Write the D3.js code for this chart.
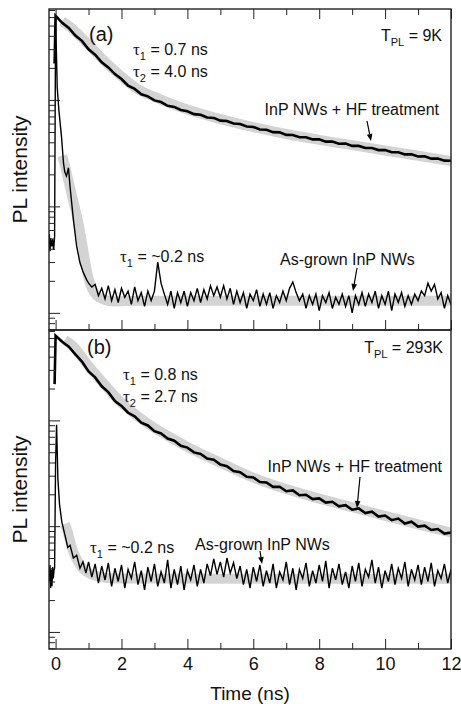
<!DOCTYPE html>
<html><head><meta charset="utf-8">
<script src="https://cdn.jsdelivr.net/npm/d3@7"></script>
<style>
body{margin:0;background:#fff}
svg{display:block}
text{font-family:"Liberation Sans",Arial,Helvetica,sans-serif;fill:#111}
</style>
</head><body>
<svg id="chart" width="461" height="704"></svg>
<script>
// ---------- axis settings ----------
const timeDomain = [-0.2, 12];
const intensityDomain = [0.69, 715];
const xMajorTicks = [0, 2, 4, 6, 8, 10, 12];
const xMinorTicks = [1, 3, 5, 7, 9, 11];
const xTickLabels = ["0", "2", "4", "6", "8", "10", "12"];

// ---------- sampling grids (ns) ----------
const timeGrid02 = [0,0.2,0.4,0.6,0.8,1,1.2,1.4,1.6,1.8,
  2,2.2,2.4,2.6,2.8,3,3.2,3.4,3.6,3.8,
  4,4.2,4.4,4.6,4.8,5,5.2,5.4,5.6,5.8,
  6,6.2,6.4,6.6,6.8,7,7.2,7.4,7.6,7.8,
  8,8.2,8.4,8.6,8.8,9,9.2,9.4,9.6,9.8,
  10,10.2,10.4,10.6,10.8,11,11.2,11.4,11.6,11.8,
  12];
const timeTail = [1,1.1,1.2,1.3,1.4,1.5,1.6,1.7,1.8,1.9,
  2,2.1,2.2,2.3,2.4,2.5,2.6,2.7,2.8,2.9,
  3,3.1,3.2,3.3,3.4,3.5,3.6,3.7,3.8,3.9,
  4,4.1,4.2,4.3,4.4,4.5,4.6,4.7,4.8,4.9,
  5,5.1,5.2,5.3,5.4,5.5,5.6,5.7,5.8,5.9,
  6,6.1,6.2,6.3,6.4,6.5,6.6,6.7,6.8,6.9,
  7,7.1,7.2,7.3,7.4,7.5,7.6,7.7,7.8,7.9,
  8,8.1,8.2,8.3,8.4,8.5,8.6,8.7,8.8,8.9,
  9,9.1,9.2,9.3,9.4,9.5,9.6,9.7,9.8,9.9,
  10,10.1,10.2,10.3,10.4,10.5,10.6,10.7,10.8,10.9,
  11,11.1,11.2,11.3,11.4,11.5,11.6,11.7,11.8,11.9,
  12];

// ---------- (a) 9 K : InP NWs + HF treatment ----------
const hf9KLeadT = [-0.03];
const hf9KLeadV = [220];
const hf9K = [617,530,474,402,359,299,266,226,202,175,
  157,136,127,113,108,99,95.5,88,86,80.5,
  78.3,73.6,72.6,68.5,67.8,63.9,63.4,60,59.4,56.2,
  55.8,52.8,52.5,49.8,49.6,47,46.9,44.6,44.6,42.6,
  42.6,40.6,40.7,38.8,38.9,37.0,37.0,35.4,35.4,33.8,
  33.8,32.3,32.3,30.8,30.9,29.4,29.5,28.1,28.1,26.9,
  26.8];
const fit9KHfT = [0.2,0.5,1,1.5,2,2.5,3,3.5,4,5,6,7,8,9,10,11,12];
const fit9KHfV = [550,468,331,229,166,126,107,92.3,81.3,66.1,55.6,47.9,42.2,37.6,33.5,29.9,26.6];

// ---------- (a) 9 K : as-grown InP NWs ----------
const ag9KEarlyT = [-0.19,-0.17,-0.15,-0.12,-0.09,-0.06,-0.03,0,0.05,0.1,0.18,0.24,0.28,0.33,0.39,0.44,0.54,0.64,0.74,0.84,0.94];
const ag9KEarlyV = [5.5,3.8,5.0,4.2,4.9,3.9,5.2,590,130,80,45,25.5,21,19.3,23,15.2,7.5,4.2,2.95,2.4,2.05];
const ag9KTail = [1.9,1.75,1.85,1.45,1.7,1.35,1.8,1.3,1.65,1.25,
  1.7,1.4,1.6,1.2,1.75,1.3,1.55,1.15,1.6,1.3,
  1.6,3.0,1.9,1.5,1.2,1.6,1.1,1.55,1.25,1.6,
  1.15,1.55,1.3,1.7,1.25,1.65,1.35,1.8,1.45,1.75,
  1.4,1.8,1.35,1.7,1.2,1.6,1.25,1.55,1.1,1.5,
  1.3,1.65,1.15,1.5,1.2,1.55,1.1,1.45,1.25,1.6,
  1.3,1.7,1.95,1.55,1.3,1.5,1.1,1.45,1.2,1.5,
  1.05,1.45,1.25,1.55,1.1,1.4,1.2,1.5,1.15,1.45,
  1.0,1.45,1.2,1.55,1.15,1.5,1.25,1.6,1.1,1.45,
  1.2,1.6,1.05,1.5,1.25,1.55,1.15,1.45,1.2,1.5,
  1.3,1.6,1.45,1.9,1.6,1.85,1.35,1.55,1.1,1.45,
  1.2];
const fit9KAgT = [0.2,0.3,0.4,0.5,0.6,0.7,0.8,0.9,1.0,1.1,1.25,1.5,1.75,2.5,12];
const fit9KAgV = [30,23,17,12.5,9.3,6.8,4.6,3.0,2.1,1.7,1.45,1.32,1.28,1.3,1.3];

// ---------- (b) 293 K : InP NWs + HF treatment ----------
const hf293KLeadT = [-0.03];
const hf293KLeadV = [220];
const hf293K = [631,553,497,420,360,290,255,210,185,152,
  137,118,109,95,89.5,79,75.3,67.3,64.2,57.5,
  55.3,49.8,48.2,43.6,42.4,38.3,36.9,33.2,32.3,29.3,
  28.9,26.1,25.9,23.5,23.6,21.4,21.8,19.6,19.8,18.0,
  18.3,16.7,17.0,15.4,15.8,14.3,14.7,13.3,13.7,12.3,
  12.6,11.4,11.8,10.6,11.0,9.9,10.1,9.2,9.4,8.5,
  8.7];
const fit293KHfT = [0.28,0.5,1,1.5,2,2.5,3,3.5,4,5,6,7,8,9,10,11,12];
const fit293KHfV = [575,513,327,216,146,109,85,68.7,56.2,39.8,28.8,22.4,18.2,15.1,12.5,10.4,8.7];

// ---------- (b) 293 K : as-grown InP NWs ----------
const ag293KEarlyT = [-0.19,-0.17,-0.15,-0.13,-0.11,-0.09,-0.07,-0.05,-0.03,0,0.03,0.07,0.12,0.19,0.29,0.37,0.44,0.54,0.64,0.74,0.83,0.92];
const ag293KEarlyV = [3.0,4.3,2.6,3.9,2.7,4.1,3.2,3.8,4.0,40,91,28,16,10.9,8.1,6.3,6.6,5.0,5.3,4.0,4.6,3.6];
const ag293KTail = [4.6,3.3,4.4,2.9,4.2,3.1,4.5,2.7,4.0,3.0,
  4.3,2.6,3.9,3.2,4.6,2.8,3.8,2.5,4.1,3.0,
  4.4,2.7,3.7,2.9,4.8,2.6,3.9,2.8,4.2,2.5,
  3.8,3.1,4.3,2.7,3.9,2.9,4.4,3.4,4.9,3.5,
  4.6,3.3,5.0,3.6,4.5,3.2,4.2,2.8,3.9,2.6,
  4.1,3.0,4.3,2.7,3.8,2.9,4.4,2.6,3.7,3.1,
  4.6,2.8,4.0,2.5,3.9,3.2,4.5,2.7,3.8,2.9,
  4.3,3.0,4.7,2.6,4.0,3.1,4.4,2.8,3.7,2.6,
  4.2,3.0,4.5,2.7,3.9,3.3,4.8,2.9,4.1,2.6,
  3.8,3.0,4.4,2.8,4.0,3.2,4.6,2.7,3.9,3.1,
  4.3,2.8,4.1,3.0,4.5,2.7,3.8,3.2,4.4,2.9,
  3.9];
const fit293KAgT = [0.28,0.34,0.44,0.54,0.7,0.84,1.05,1.35,1.8,12];
const fit293KAgV = [10.5,9.4,7.2,5.7,4.5,3.95,3.55,3.32,3.2,3.18];

// ---------- helpers ----------
const zip = (ts, vs) => ts.map((t, i) => [t, vs[i]]);
const svg = d3.select("#chart");
const x = d3.scaleLinear().domain(timeDomain).range([49, 451]);

const panels = [
  {id: "a", top: 9, bottom: 330,
   y: d3.scaleLog().domain(intensityDomain).range([330, 9]),
   fits: [zip(fit9KHfT, fit9KHfV), zip(fit9KAgT, fit9KAgV)],
   lines: [zip(hf9KLeadT, hf9KLeadV).concat(zip(timeGrid02, hf9K)),
           zip(ag9KEarlyT, ag9KEarlyV).concat(zip(timeTail, ag9KTail))]},
  {id: "b", top: 330, bottom: 649,
   y: d3.scaleLog().domain(intensityDomain).range([649, 330]),
   fits: [zip(fit293KHfT, fit293KHfV), zip(fit293KAgT, fit293KAgV)],
   lines: [zip(hf293KLeadT, hf293KLeadV).concat(zip(timeGrid02, hf293K)),
           zip(ag293KEarlyT, ag293KEarlyV).concat(zip(timeTail, ag293KTail))]}
];

const defs = svg.append("defs");
panels.forEach(p => {
  defs.append("clipPath").attr("id", "clip-" + p.id)
    .append("rect").attr("x", 49).attr("y", p.top)
    .attr("width", 402).attr("height", p.bottom - p.top);
});

panels.forEach(p => {
  const g = svg.append("g").attr("clip-path", `url(#clip-${p.id})`);
  const fitLine = d3.line().x(d => x(d[0])).y(d => p.y(d[1])).curve(d3.curveMonotoneX);
  const dataLine = d3.line().x(d => x(d[0])).y(d => p.y(d[1]));
  g.selectAll("path.fit").data(p.fits).join("path").attr("class", "fit")
    .attr("d", fitLine).attr("fill", "none").attr("stroke", "#d3d3d3")
    .attr("stroke-width", 10).attr("stroke-linecap", "butt").attr("stroke-linejoin", "round");
  g.selectAll("path.data").data(p.lines).join("path").attr("class", "data")
    .attr("d", dataLine).attr("fill", "none").attr("stroke", "#000")
    .attr("stroke-width", (d, i) => i === 0 ? 2.6 : 1.4).attr("stroke-linejoin", "miter");
});

// ---------- axes (inward ticks) ----------
function styleAxis(sel) {
  sel.select(".domain").remove();
  sel.selectAll(".tick line").attr("stroke", "#222").attr("stroke-width", 1);
}
panels.forEach((p, pi) => {
  const decades = [1, 10, 100];
  const minors = p.y.ticks().filter(v => !decades.includes(v));
  svg.append("g").attr("transform", "translate(49,0)")
    .call(d3.axisLeft(p.y).tickValues(decades).tickSize(-11).tickFormat(""))
    .call(styleAxis);
  svg.append("g").attr("transform", "translate(49,0)")
    .call(d3.axisLeft(p.y).tickValues(minors).tickSize(-6).tickFormat(""))
    .call(styleAxis);
  const isLast = pi === panels.length - 1;
  const gb = svg.append("g").attr("transform", `translate(0,${p.bottom})`)
    .call(d3.axisBottom(x).tickValues(xMajorTicks).tickSize(-10).tickPadding(8)
      .tickFormat((d, i) => isLast ? xTickLabels[i] : ""))
    .call(styleAxis);
  gb.selectAll("text").attr("font-size", 18).attr("fill", "#111")
    .attr("font-family", '"Liberation Sans", Arial, sans-serif');
  svg.append("g").attr("transform", `translate(0,${p.bottom})`)
    .call(d3.axisBottom(x).tickValues(xMinorTicks).tickSize(-6).tickFormat(""))
    .call(styleAxis);
  if (pi === 0) {
    svg.append("g").attr("transform", `translate(0,${p.top})`)
      .call(d3.axisTop(x).tickValues(xMajorTicks).tickSize(-10).tickFormat(""))
      .call(styleAxis);
    svg.append("g").attr("transform", `translate(0,${p.top})`)
      .call(d3.axisTop(x).tickValues(xMinorTicks).tickSize(-6).tickFormat(""))
      .call(styleAxis);
  }
  svg.append("rect").attr("x", 49).attr("y", p.top).attr("width", 402)
    .attr("height", p.bottom - p.top).attr("fill", "none")
    .attr("stroke", "#222").attr("stroke-width", 1.4);
  svg.append("text").attr("transform", `translate(27,${(p.top + p.bottom) / 2}) rotate(-90)`)
    .attr("text-anchor", "middle").attr("font-size", 21).text("PL intensity");
});

svg.append("text").attr("x", 250).attr("y", 700).attr("text-anchor", "middle")
  .attr("font-size", 19).text("Time (ns)");

// ---------- annotations ----------
function tau(xp, yp, sub, rest) {
  const t = svg.append("text").attr("x", xp).attr("y", yp).attr("font-size", 16);
  t.append("tspan").attr("font-family", '"Liberation Serif", "DejaVu Serif", serif')
    .attr("font-size", 17).text("τ");
  t.append("tspan").attr("font-size", 11).attr("dy", 5).text(sub);
  t.append("tspan").attr("dy", -5).text(" = " + rest);
}
function tpl(xp, yp, rest) {
  const t = svg.append("text").attr("x", xp).attr("y", yp).attr("font-size", 16)
    .attr("text-anchor", "end");
  t.append("tspan").text("T");
  t.append("tspan").attr("font-size", 11).attr("dy", 5).text("PL");
  t.append("tspan").attr("dy", -5).text(" = " + rest);
}
function label(xp, yp, txt, anchor, size) {
  svg.append("text").attr("x", xp).attr("y", yp).attr("font-size", size || 16)
    .attr("text-anchor", anchor || "start").text(txt);
}
function arrow(x1, y1, x2, y2) {
  const ang = Math.atan2(y2 - y1, x2 - x1);
  const L = 7, H = 2.8;
  const bx = x2 - L * Math.cos(ang), by = y2 - L * Math.sin(ang);
  svg.append("line").attr("x1", x1).attr("y1", y1).attr("x2", bx).attr("y2", by)
    .attr("stroke", "#000").attr("stroke-width", 1.2);
  const px = -Math.sin(ang) * H, py = Math.cos(ang) * H;
  svg.append("path")
    .attr("d", `M${x2},${y2}L${bx + px},${by + py}L${bx - px},${by - py}Z`)
    .attr("fill", "#000");
}

// panel (a)
label(89, 41, "(a)", "start", 20);
tau(133, 55, "1", "0.7 ns");
tau(133, 77, "2", "4.0 ns");
tpl(442, 41, "9K");
label(439, 115, "InP NWs + HF treatment", "end");
arrow(367, 121, 371, 141);
tau(120, 262, "1", "~0.2 ns");
label(280, 265, "As-grown InP NWs");
arrow(357, 268, 353, 291);

// panel (b)
label(87, 354, "(b)", "start", 20);
tau(123, 380, "1", "0.8 ns");
tau(123, 402, "2", "2.7 ns");
tpl(443, 353, "293K");
label(442, 472, "InP NWs + HF treatment", "end");
arrow(360, 477, 357, 508);
tau(90, 553, "1", "~0.2 ns");
label(195, 550, "As-grown InP NWs");
arrow(260, 551, 262, 564);
</script>
</body></html>
